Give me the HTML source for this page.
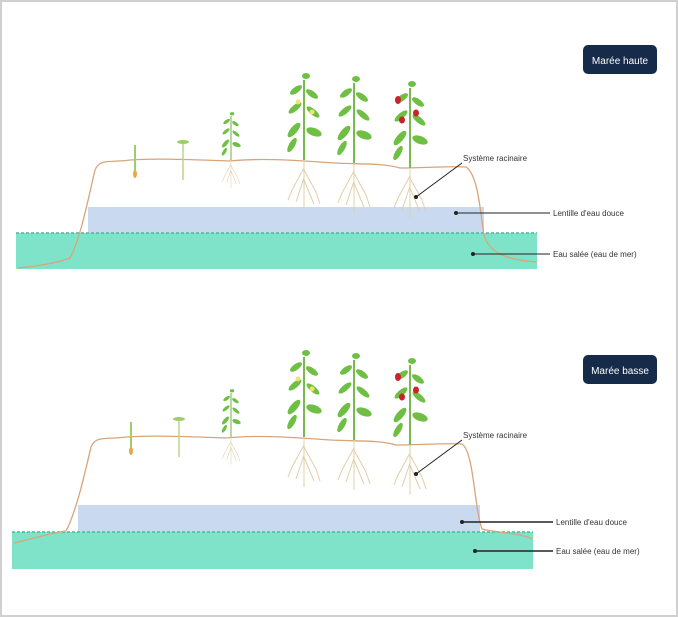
<!DOCTYPE html>
<html><head><meta charset="utf-8"><style>
html,body{margin:0;padding:0;background:#fff;}
svg{display:block}
text{font-family:"Liberation Sans",sans-serif;}
</style></head><body>
<svg width="678" height="617" viewBox="0 0 678 617" xmlns="http://www.w3.org/2000/svg">
<rect x="0.5" y="0.5" width="677" height="616" fill="#fff" stroke="#d0d0d0" stroke-width="3"/>
<defs>
<g id="plant">
  <path d="M0,0 V-80" stroke="#7cb850" stroke-width="2" fill="none"/>
  <g fill="#6fbf44">
    <ellipse cx="-8" cy="-70" rx="7" ry="3" transform="rotate(-35 -8 -70)"/>
    <ellipse cx="8" cy="-66" rx="7" ry="3" transform="rotate(35 8 -66)"/>
    <ellipse cx="-9" cy="-52" rx="8" ry="3" transform="rotate(-40 -9 -52)"/>
    <ellipse cx="9" cy="-48" rx="8" ry="3" transform="rotate(40 9 -48)"/>
    <ellipse cx="-10" cy="-30" rx="9" ry="3.5" transform="rotate(-50 -10 -30)"/>
    <ellipse cx="10" cy="-28" rx="8" ry="4" transform="rotate(20 10 -28)"/>
    <ellipse cx="-12" cy="-15" rx="8" ry="3" transform="rotate(-60 -12 -15)"/>
    <ellipse cx="2" cy="-84" rx="4" ry="3"/>
  </g>
  <g stroke="#e0cfa8" stroke-width="1" fill="none">
    <path d="M0,0 V50 M0,8 L-12,30 M0,10 L12,32 M0,18 L-8,42 M0,20 L10,44 M-12,30 L-16,40 M12,32 L16,44"/>
  </g>
</g>
<g id="panel">
  <polygon points="92,170 470,165 484,233 80,233" fill="#fff"/>
  <rect x="88" y="207" width="396" height="26" fill="#c9d9f0"/>
  <rect x="16" y="233" width="521" height="36" fill="#7fe3c9"/>
  <line x1="16" y1="233" x2="537" y2="233" stroke="#3fbf9a" stroke-width="1.5" stroke-dasharray="3,2"/>
  <path d="M18,268 C40,266 60,262 70,258 C80,240 88,200 95,170 C100,158 110,163 130,160 C160,158 200,160 230,161 C260,158 290,160 320,162 C350,165 380,162 400,168 C420,168 450,166 466,167 C478,175 480,210 484,235 C490,255 510,260 537,262" fill="none" stroke="#d8a57a" stroke-width="1.3"/>
  <!-- small seedlings -->
  <path d="M135,145 V175" stroke="#9ccf6a" stroke-width="2"/><ellipse cx="135" cy="174" rx="2" ry="4" fill="#e8a84a"/>
  <path d="M183,142 V180" stroke="#b5d98e" stroke-width="1.5"/><ellipse cx="183" cy="142" rx="6" ry="2" fill="#9ccf6a"/>
  <g transform="translate(231,160) scale(0.55)"><use href="#plant"/></g>
  <g transform="translate(304,160)"><use href="#plant"/></g>
  <g transform="translate(354,163)"><use href="#plant"/></g>
  <g transform="translate(410,168)"><use href="#plant"/></g>
  <circle cx="298" cy="102" r="2.5" fill="#f3e36a"/><circle cx="312" cy="112" r="2.5" fill="#f3e36a"/>
  <ellipse cx="398" cy="100" rx="3" ry="4" fill="#c8242a"/><ellipse cx="416" cy="113" rx="3" ry="3.5" fill="#c8242a"/><ellipse cx="402" cy="120" rx="3" ry="3.5" fill="#c8242a"/>
  <line x1="462" y1="163" x2="416" y2="197" stroke="#222" stroke-width="1"/><circle cx="416" cy="197" r="2" fill="#222"/>
  <text x="463" y="161" font-size="8" fill="#333">Système racinaire</text>
</g>
</defs>
<use href="#panel"/>
<line x1="456" y1="213" x2="550" y2="213" stroke="#222" stroke-width="1"/><circle cx="456" cy="213" r="2" fill="#222"/>
<text x="553" y="216" font-size="8" fill="#333">Lentille d'eau douce</text>
<line x1="473" y1="254" x2="550" y2="254" stroke="#222" stroke-width="1"/><circle cx="473" cy="254" r="2" fill="#222"/>
<text x="553" y="257" font-size="8" fill="#333">Eau salée (eau de mer)</text>
<rect x="583" y="45" width="74" height="29" rx="5" fill="#162a4a"/>
<text x="620" y="64" font-size="10" fill="#fff" text-anchor="middle">Marée haute</text>

<g transform="translate(-4,277)">
  <polygon points="92,170 470,165 484,255 75,255" fill="#fff"/>
  <rect x="82" y="228" width="402" height="27" fill="#c9d9f0"/>
  <rect x="16" y="255" width="521" height="37" fill="#7fe3c9"/>
  <line x1="16" y1="255" x2="537" y2="255" stroke="#3fbf9a" stroke-width="1.5" stroke-dasharray="3,2"/>
  <path d="M18,266 C35,262 55,256 70,254 C80,235 88,200 95,170 C100,158 110,163 130,160 C160,158 200,160 230,161 C260,158 290,160 320,162 C350,165 380,162 400,168 C420,168 450,166 466,167 C478,175 478,230 486,252 C500,256 520,255 537,262" fill="none" stroke="#d8a57a" stroke-width="1.3"/>
  <path d="M135,145 V175" stroke="#9ccf6a" stroke-width="2"/><ellipse cx="135" cy="174" rx="2" ry="4" fill="#e8a84a"/>
  <path d="M183,142 V180" stroke="#b5d98e" stroke-width="1.5"/><ellipse cx="183" cy="142" rx="6" ry="2" fill="#9ccf6a"/>
  <g transform="translate(235,160) scale(0.55)"><use href="#plant"/></g>
  <g transform="translate(308,160)"><use href="#plant"/></g>
  <g transform="translate(358,163)"><use href="#plant"/></g>
  <g transform="translate(414,168)"><use href="#plant"/></g>
  <circle cx="302" cy="102" r="2.5" fill="#f3e36a"/><circle cx="316" cy="112" r="2.5" fill="#f3e36a"/>
  <ellipse cx="402" cy="100" rx="3" ry="4" fill="#c8242a"/><ellipse cx="420" cy="113" rx="3" ry="3.5" fill="#c8242a"/><ellipse cx="406" cy="120" rx="3" ry="3.5" fill="#c8242a"/>
  <line x1="466" y1="163" x2="420" y2="197" stroke="#222" stroke-width="1"/><circle cx="420" cy="197" r="2" fill="#222"/>
  <text x="467" y="161" font-size="8" fill="#333">Système racinaire</text>
</g>
<line x1="462" y1="522" x2="553" y2="522" stroke="#222" stroke-width="1.5"/><circle cx="462" cy="522" r="2" fill="#222"/>
<text x="556" y="525" font-size="8" fill="#333">Lentille d'eau douce</text>
<line x1="475" y1="551" x2="553" y2="551" stroke="#222" stroke-width="1.5"/><circle cx="475" cy="551" r="2" fill="#222"/>
<text x="556" y="554" font-size="8" fill="#333">Eau salée (eau de mer)</text>
<rect x="583" y="355" width="74" height="29" rx="5" fill="#162a4a"/>
<text x="620" y="374" font-size="10" fill="#fff" text-anchor="middle">Marée basse</text>
</svg>
</body></html>
